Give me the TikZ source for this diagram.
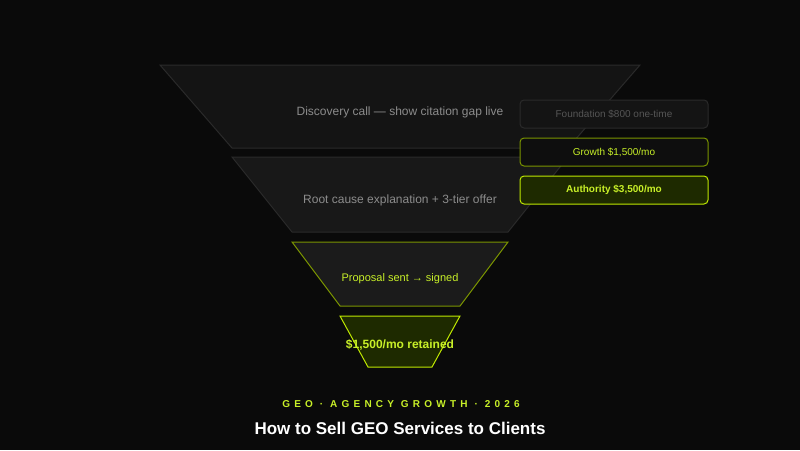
\documentclass[tikz,border=0pt]{standalone}
\usepackage{fontspec}
\setmainfont{Liberation Sans}
\definecolor{bg}{HTML}{0A0A0A}
\definecolor{stageA}{HTML}{141414}
\definecolor{stageB}{HTML}{181818}
\definecolor{stageC}{HTML}{1B1B1B}
\definecolor{edgeGray}{HTML}{2A2A2A}
\definecolor{olive}{HTML}{7A9400}
\definecolor{lime}{HTML}{C8F028}
\definecolor{limeEdge}{HTML}{BFE800}
\definecolor{darkLime}{HTML}{1E2A00}
\definecolor{textGray}{HTML}{8C8C8C}
\definecolor{dimGray}{HTML}{555555}
\begin{document}
\begin{tikzpicture}[x=1pt,y=-1pt,
  stagetext/.style={font=\fontsize{12}{14}\selectfont},
  tierbox/.style={rounded corners=4pt,line width=1pt,minimum width=188pt,minimum height=28pt,font=\fontsize{10}{12}\selectfont}]

\fill[bg] (0,0) rectangle (800,450);
\useasboundingbox (0,0) rectangle (800,450);

\draw[fill=stageA,draw=edgeGray,line width=1pt] (160,65) -- (640,65) -- (568,148) -- (232,148) -- cycle;
\draw[fill=stageB,draw=edgeGray,line width=1pt] (232,157) -- (568,157) -- (508,232) -- (292,232) -- cycle;
\draw[fill=stageC,draw=olive,line width=1pt] (292,242) -- (508,242) -- (460,306) -- (340,306) -- cycle;
\draw[fill=darkLime,draw=limeEdge,line width=1pt] (340,316) -- (460,316) -- (432,367) -- (368,367) -- cycle;

\node[stagetext,text=textGray] (discovery) at (400,112) {Discovery call — show citation gap live};
\node[stagetext,text=textGray] (rootcause) at (400,200) {Root cause explanation + 3-tier offer};
\node[font=\fontsize{11}{13}\selectfont,text=lime] (proposal) at (400,279) {Proposal sent → signed};
\node[font=\bfseries\fontsize{12}{14}\selectfont,text=lime] (retained) at (400,345) {\$1,500/mo retained};

\node[tierbox,fill=stageA,draw=edgeGray,text=dimGray] (foundation) at (614,114) {Foundation \$800 one-time};
\node[tierbox,fill=bg!60!stageA,draw=olive,text=lime] (growth) at (614,152) {Growth \$1,500/mo};
\node[tierbox,fill=darkLime,draw=limeEdge,text=lime,font=\bfseries\fontsize{10}{12}\selectfont] (authority) at (614,190) {Authority \$3,500/mo};

\node[text=lime,font=\bfseries\fontsize{10}{12}\selectfont\addfontfeatures{LetterSpace=42}] (kicker) at (401,404) {GEO · AGENCY GROWTH · 2026};
\node[text=white,font=\bfseries\fontsize{17}{20}\selectfont] (title) at (400,428) {How to Sell GEO Services to Clients};
\end{tikzpicture}
\end{document}
